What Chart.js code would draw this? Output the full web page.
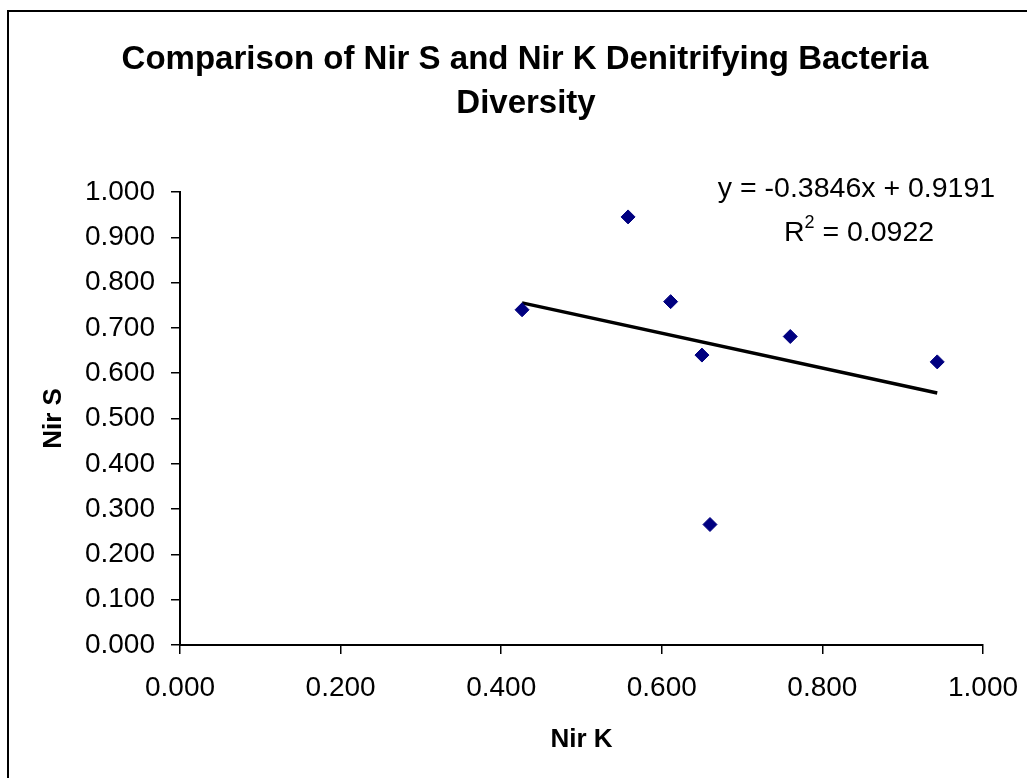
<!DOCTYPE html>
<html>
<head>
<meta charset="utf-8">
<title>Nir S vs Nir K</title>
<script src="https://cdn.jsdelivr.net/npm/chart.js@4/dist/chart.umd.min.js"></script>
<style>
  html, body { margin: 0; padding: 0; background: #fff; }
  #wrap { width: 1027px; height: 778px; }
</style>
</head>
<body>
<div id="wrap"><canvas id="chart" width="1027" height="778"></canvas></div>
<script>
// Données
const nirK = [0.426, 0.558, 0.611, 0.650, 0.760, 0.943, 0.660];
const nirS = [0.740, 0.945, 0.758, 0.640, 0.681, 0.625, 0.266];

// Courbe de tendance affichée (Excel)
const trendSlope = -0.3846;
const trendIntercept = 0.9191;
const trendR2 = 0.0922;

const titleLines = ['Comparison of Nir S and Nir K Denitrifying Bacteria', 'Diversity'];
const FONT = "'Liberation Sans', Arial, sans-serif";

const points = nirK.map((x, i) => ({ x: x, y: nirS[i] }));
const xMin = Math.min(...nirK);
const xMax = Math.max(...nirK);
const trendPoints = [
  { x: xMin, y: trendSlope * xMin + trendIntercept },
  { x: xMax, y: trendSlope * xMax + trendIntercept }
];

// cadre noir, titre et équation de la tendance
const decorPlugin = {
  id: 'decor',
  beforeDraw(chart) {
    const ctx = chart.ctx;
    ctx.save();
    ctx.strokeStyle = '#000';
    ctx.lineWidth = 2;
    ctx.strokeRect(8, 11, 1100, 1000);

    // titre sur deux lignes (centré comme dans Excel, pas sur la zone de tracé)
    ctx.fillStyle = '#000';
    ctx.font = `bold 33px ${FONT}`;
    ctx.textAlign = 'center';
    ctx.textBaseline = 'middle';
    ctx.fillText(titleLines[0], 525, 59.5);
    ctx.fillText(titleLines[1], 526, 103.5);
    ctx.restore();
  },
  afterDraw(chart) {
    const ctx = chart.ctx;
    const area = chart.chartArea;
    ctx.save();
    ctx.fillStyle = '#000';
    ctx.textBaseline = 'alphabetic';

    const sign = trendIntercept < 0 ? '-' : '+';
    const eq = `y = ${trendSlope.toFixed(4)}x ${sign} ${Math.abs(trendIntercept).toFixed(4)}`;
    ctx.font = `28.5px ${FONT}`;
    ctx.textAlign = 'center';
    ctx.fillText(eq, area.right - 126.5, area.top + 5);

    // R² avec exposant
    const rPart = 'R';
    const rest = ' = ' + trendR2.toFixed(4);
    ctx.font = `28.5px ${FONT}`;
    const wR = ctx.measureText(rPart).width;
    const wRest = ctx.measureText(rest).width;
    ctx.font = `18px ${FONT}`;
    const wSup = ctx.measureText('2').width;
    const total = wR + wSup + wRest;
    let x = area.right - 124 - total / 2;
    const base = area.top + 49;
    ctx.textAlign = 'left';
    ctx.font = `28.5px ${FONT}`;
    ctx.fillText(rPart, x, base);
    x += wR;
    ctx.font = `18px ${FONT}`;
    ctx.fillText('2', x, base - 13);
    x += wSup;
    ctx.font = `28.5px ${FONT}`;
    ctx.fillText(rest, x, base);
    ctx.restore();
  }
};

const ctx = document.getElementById('chart');
new Chart(ctx, {
  type: 'scatter',
  data: {
    datasets: [
      {
        label: 'Nir S',
        data: points,
        pointStyle: 'rectRot',
        pointRadius: 7,
        pointBackgroundColor: '#000080',
        pointBorderColor: '#000080',
        pointBorderWidth: 1,
        showLine: false
      },
      {
        label: 'Linear',
        data: trendPoints,
        showLine: true,
        borderColor: '#000',
        borderWidth: 3.5,
        pointRadius: 0,
        fill: false
      }
    ]
  },
  options: {
    responsive: false,
    animation: false,
    layout: { padding: { left: 0, right: 44, top: 192, bottom: 0 } },
    plugins: {
      legend: { display: false },
      tooltip: { enabled: false },
      title: { display: false }
    },
    scales: {
      x: {
        type: 'linear',
        min: 0,
        max: 1,
        afterFit(scale) {
          scale.height = 133;
          scale.paddingLeft = 0;
          scale.paddingRight = 0;
        },
        border: { display: true, color: '#000', width: 2 },
        grid: { drawOnChartArea: false, color: '#000', lineWidth: 1.5, tickLength: 9 },
        ticks: {
          stepSize: 0.2,
          autoSkip: false,
          maxRotation: 0,
          padding: 17,
          color: '#000',
          font: { family: FONT, size: 28 },
          callback: v => Number(v).toFixed(3)
        },
        title: {
          display: true,
          text: 'Nir K',
          color: '#000',
          font: { family: FONT, size: 26, weight: 'bold' },
          padding: { top: 0, bottom: 23 }
        }
      },
      y: {
        type: 'linear',
        min: 0,
        max: 1,
        afterFit(scale) {
          scale.width = 180;
          scale.paddingTop = 0;
          scale.paddingBottom = 0;
        },
        border: { display: true, color: '#000', width: 2 },
        grid: { drawOnChartArea: false, color: '#000', lineWidth: 1.5, tickLength: 9 },
        ticks: {
          stepSize: 0.1,
          autoSkip: false,
          padding: 16,
          color: '#000',
          font: { family: FONT, size: 28 },
          callback: v => Number(v).toFixed(3)
        },
        title: {
          display: true,
          text: 'Nir S',
          color: '#000',
          font: { family: FONT, size: 26, weight: 'bold' },
          padding: { top: 38, bottom: 0 }
        }
      }
    }
  },
  plugins: [decorPlugin]
});
</script>
</body>
</html>
